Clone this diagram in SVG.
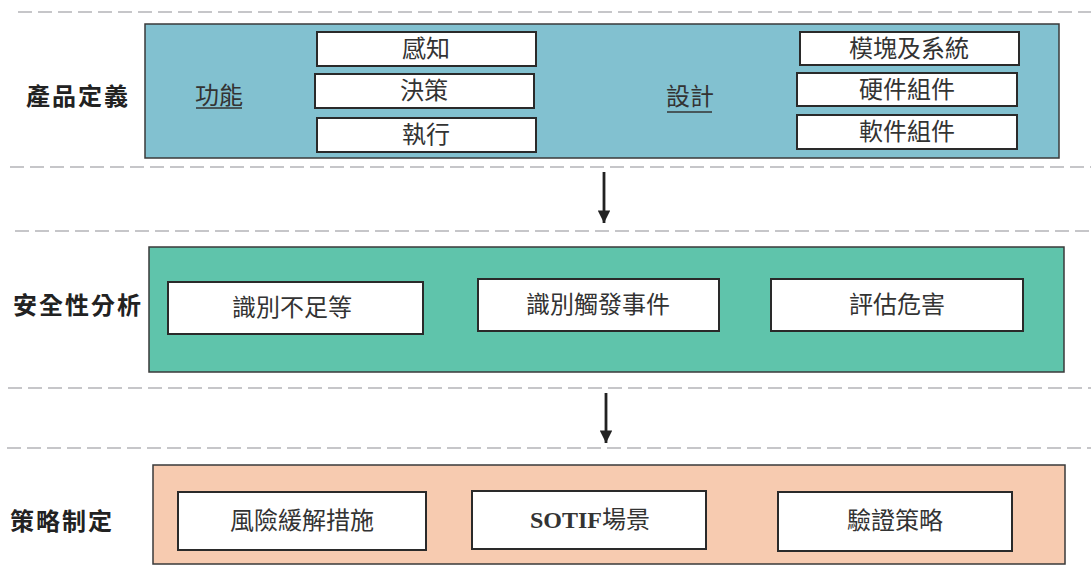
<svg xmlns="http://www.w3.org/2000/svg" width="1091" height="583" viewBox="0 0 1091 583">
<defs>
<style>
.dash{stroke:#b4b4b8;stroke-width:1.6;stroke-dasharray:14 6;fill:none}
.panel{stroke:#3a3a3a;stroke-width:1.5}
.box{fill:#fff;stroke:#2a2a2a;stroke-width:2}
.t{font-family:"Liberation Serif","Noto Sans CJK TC",serif;font-size:24px;fill:#333;text-anchor:middle}
.lbl{font-family:"Liberation Serif","Noto Sans CJK TC",serif;font-size:24px;font-weight:bold;fill:#222;text-anchor:middle;letter-spacing:2px}
.ul{stroke:#333;stroke-width:1.5}
.arr{stroke:#222;stroke-width:2.8;fill:none}
</style>
<marker id="ah" viewBox="0 0 10 10" refX="10" refY="5" markerWidth="4.5" markerHeight="4.5" orient="auto" markerUnits="strokeWidth">
<path d="M0,0 L10,5 L0,10 Z" fill="#222"/>
</marker>
</defs>
<rect width="1091" height="583" fill="#fff"/>
<g id="guides">
<line class="dash" x1="18" y1="12" x2="1091" y2="12"/>
<line class="dash" x1="10" y1="167" x2="1091" y2="167"/>
<line class="dash" x1="15" y1="231" x2="1091" y2="231"/>
<line class="dash" x1="8" y1="388" x2="1091" y2="388"/>
<line class="dash" x1="7" y1="448" x2="1091" y2="448"/>
</g>
<g id="product-definition">
<rect class="panel" x="145" y="24" width="914" height="134" fill="#82c1d0"/>
<text class="lbl" x="78" y="105">產品定義</text>
<text class="t" x="219" y="104">功能</text>
<line class="ul" x1="196" y1="108" x2="242" y2="108"/>
<text class="t" x="690" y="105">設計</text>
<line class="ul" x1="667" y1="112" x2="712" y2="112"/>
</g>
<g id="n-perception"><rect class="box" x="317" y="32" width="219" height="34"/><text class="t" x="426" y="57">感知</text></g>
<g id="n-decision"><rect class="box" x="315" y="74" width="219" height="34"/><text class="t" x="424" y="99">決策</text></g>
<g id="n-execution"><rect class="box" x="317" y="118" width="219" height="34"/><text class="t" x="426" y="143">執行</text></g>
<g id="n-module"><rect class="box" x="800" y="32" width="219" height="33"/><text class="t" x="909" y="57">模塊及系統</text></g>
<g id="n-hardware"><rect class="box" x="797" y="73" width="220" height="33"/><text class="t" x="907" y="98">硬件組件</text></g>
<g id="n-software"><rect class="box" x="797" y="115" width="220" height="34"/><text class="t" x="907" y="140">軟件組件</text></g>

<g id="safety-analysis">
<rect class="panel" x="149" y="247" width="915" height="125" fill="#5fc4ab"/>
<text class="lbl" x="78" y="314">安全性分析</text>
</g>
<g id="n-insufficiency"><rect class="box" x="168" y="282" width="255" height="52"/><text class="t" x="292" y="316">識別不足等</text></g>
<g id="n-trigger"><rect class="box" x="478" y="279" width="241" height="52"/><text class="t" x="598" y="313">識別觸發事件</text></g>
<g id="n-hazard"><rect class="box" x="771" y="279" width="252" height="52"/><text class="t" x="897" y="313">評估危害</text></g>

<g id="strategy">
<rect class="panel" x="153" y="465" width="912" height="99" fill="#f7cbb0"/>
<text class="lbl" x="62" y="530">策略制定</text>
</g>
<g id="n-mitigation"><rect class="box" x="178" y="492" width="248" height="58"/><text class="t" x="302" y="529">風險緩解措施</text></g>
<g id="n-sotif"><rect class="box" x="472" y="491" width="234" height="58"/><text class="t" x="590" y="528"><tspan font-weight="bold">SOTIF</tspan>場景</text></g>
<g id="n-verification"><rect class="box" x="778" y="492" width="234" height="59"/><text class="t" x="895" y="529">驗證策略</text></g>

<g id="connectors">
<line class="arr" x1="604" y1="172" x2="604" y2="223" marker-end="url(#ah)"/>
<line class="arr" x1="606" y1="393" x2="606" y2="443" marker-end="url(#ah)"/>
</g>
</svg>
